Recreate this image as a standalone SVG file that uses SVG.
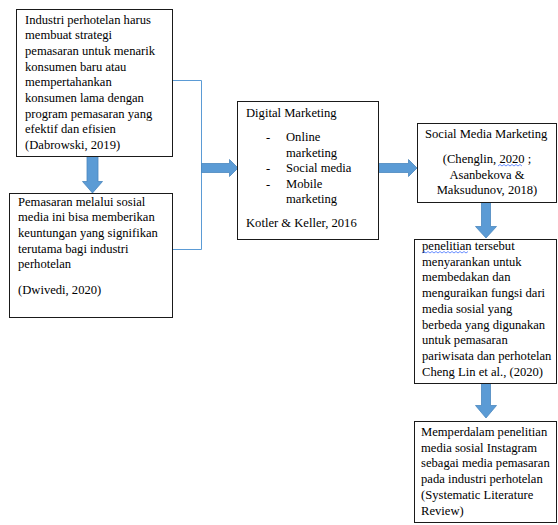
<svg xmlns="http://www.w3.org/2000/svg" width="558" height="525" viewBox="0 0 558 525">
<style>
.box{fill:#fff;stroke:#1a1a1a;stroke-width:1}
.t{font-family:"Liberation Serif","Times New Roman",serif;font-size:12.6px;fill:#000}
.c{text-anchor:middle}
.arrow{fill:#5B9BD5;stroke:#4A86BE;stroke-width:0.8}
.line{fill:none;stroke:#5B9BD5;stroke-width:1}
.sq{fill:none;stroke:#4472FF;stroke-width:0.8}
</style>
<rect width="558" height="525" fill="#fff"/>
<g id="connectors">
<path class="line" d="M172.5 80.5H201.5V249.5H172.5"/>
<path class="arrow" d="M201.5 163.5H229.5V159.5L238 168L229.5 176.5V172.5H201.5Z"/>
<path class="arrow" d="M378.5 163.5H408.5V159.5L417 168L408.5 176.5V172.5H378.5Z"/>
<path class="arrow" d="M87 156.5V181.5H82.5L92.5 193L102.5 181.5H98V156.5Z"/>
<path class="arrow" d="M481.5 202.5V226.5H475.5L486 238L496.5 226.5H490.5V202.5Z"/>
<path class="arrow" d="M481.5 383.5V405.5H475.5L486 418L496.5 405.5H490.5V383.5Z"/>
</g>
<g id="n1">
<rect class="box" x="16.5" y="9.5" width="156" height="147"/>
<text class="t" x="25" y="23.5">Industri perhotelan harus</text>
<text class="t" x="25" y="39.2">membuat strategi</text>
<text class="t" x="25" y="54.9">pemasaran untuk menarik</text>
<text class="t" x="25" y="70.6">konsumen baru atau</text>
<text class="t" x="25" y="86.3">mempertahankan</text>
<text class="t" x="25" y="102">konsumen lama dengan</text>
<text class="t" x="25" y="117.7">program pemasaran yang</text>
<text class="t" x="25" y="133.4">efektif dan efisien</text>
<text class="t" x="25" y="149.1">(Dabrowski, 2019)</text>
</g>
<g id="n2">
<rect class="box" x="9.5" y="193.5" width="163" height="124"/>
<text class="t" x="18" y="205.5">Pemasaran melalui sosial</text>
<text class="t" x="18" y="221.2">media ini bisa memberikan</text>
<text class="t" x="18" y="236.9">keuntungan yang signifikan</text>
<text class="t" x="18" y="252.6">terutama bagi industri</text>
<text class="t" x="18" y="268.3">perhotelan</text>
<text class="t" x="18" y="294">(Dwivedi, 2020)</text>
</g>
<g id="n3">
<rect class="box" x="237.5" y="101.5" width="141" height="138"/>
<text class="t" x="246" y="117">Digital Marketing</text>
<text class="t" x="266" y="141">-</text>
<text class="t" x="286" y="141">Online</text>
<text class="t" x="286" y="156.5">marketing</text>
<text class="t" x="266" y="172">-</text>
<text class="t" x="286" y="172">Social media</text>
<text class="t" x="266" y="187.5">-</text>
<text class="t" x="286" y="187.5">Mobile</text>
<text class="t" x="286" y="203">marketing</text>
<text class="t" x="246" y="227">Kotler &amp; Keller, 2016</text>
</g>
<g id="n4">
<rect class="box" x="417.5" y="123.5" width="139" height="79"/>
<text class="t" x="425" y="138">Social Media Marketing</text>
<text class="t c" x="487" y="163">(Chenglin, 2020 ;</text>
<text class="t c" x="487" y="178.5">Asanbekova &amp;</text>
<text class="t c" x="487" y="194">Maksudunov, 2018)</text>
<path class="sq" d="M498 166l2 -1.5l2 1.5l2 -1.5l2 1.5l2 -1.5l2 1.5l2 -1.5l2 1.5l2 -1.5l2 1.5l2 -1.5l2 1.5"/>
</g>
<g id="n5">
<rect class="box" x="414.5" y="239.5" width="142" height="144"/>
<text class="t" x="422" y="250">penelitian tersebut</text>
<path class="sq" d="M422 253l2 -1.5l2 1.5l2 -1.5l2 1.5l2 -1.5l2 1.5l2 -1.5l2 1.5l2 -1.5l2 1.5l2 -1.5l2 1.5l2 -1.5l2 1.5l2 -1.5l2 1.5l2 -1.5l2 1.5l2 -1.5l2 1.5l2 -1.5l2 1.5l2 -1.5"/>
<text class="t" x="422" y="265.7">menyarankan untuk</text>
<text class="t" x="422" y="281.4">membedakan dan</text>
<text class="t" x="422" y="297.1">menguraikan fungsi dari</text>
<text class="t" x="422" y="312.8">media sosial yang</text>
<text class="t" x="422" y="328.5">berbeda yang digunakan</text>
<text class="t" x="422" y="344.2">untuk pemasaran</text>
<text class="t" x="422" y="359.9">pariwisata dan perhotelan</text>
<text class="t" x="422" y="375.6">Cheng Lin et al., (2020)</text>
</g>
<g id="n6">
<rect class="box" x="414.5" y="421.5" width="142" height="101"/>
<text class="t" x="421" y="436">Memperdalam penelitian</text>
<text class="t" x="421" y="451.7">media sosial Instagram</text>
<text class="t" x="421" y="467.4">sebagai media pemasaran</text>
<text class="t" x="421" y="483.1">pada industri perhotelan</text>
<text class="t" x="421" y="498.8">(Systematic Literature</text>
<text class="t" x="421" y="514.5">Review)</text>
</g>
</svg>
